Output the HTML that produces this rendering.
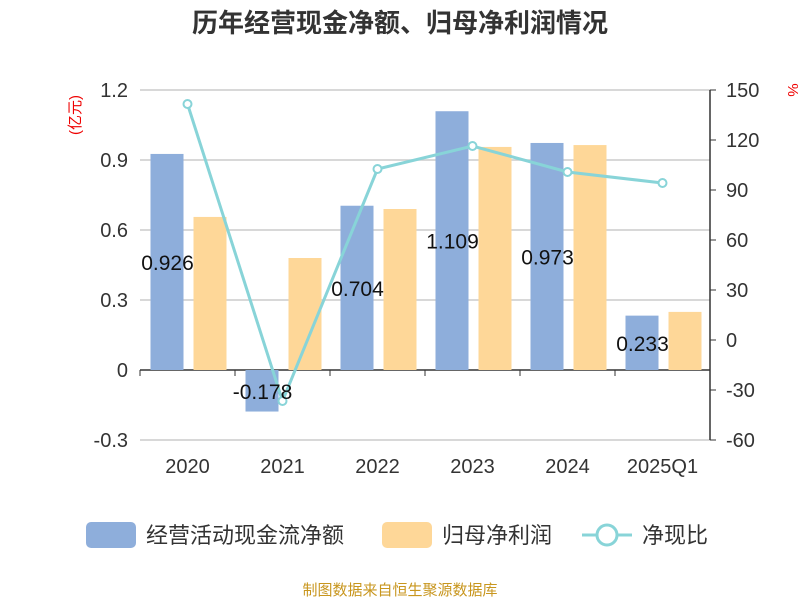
<!DOCTYPE html>
<html><head><meta charset="utf-8"><style>
body{margin:0;background:#fff;}
svg text{font-family:"Liberation Sans","Noto Sans CJK SC",sans-serif;}
</style></head><body>
<svg id="chart" width="800" height="600" xmlns="http://www.w3.org/2000/svg">
<text x="400" y="32" text-anchor="middle" font-size="26" font-weight="bold" fill="#333">历年经营现金净额、归母净利润情况</text>
<g id="grid"></g><g id="bars"></g><g id="line"></g><g id="axes"></g>
<text x="80" y="115" font-size="15" fill="#e00" transform="rotate(-90 80 115)" text-anchor="middle">(亿元)</text>
<text x="788" y="90" font-size="15" fill="#e00" transform="rotate(90 788 90)" text-anchor="middle">%</text>
<g>
<rect x="86" y="522" width="50" height="26" rx="5" fill="#8eaedb"/>
<text x="146" y="543" font-size="22" fill="#333">经营活动现金流净额</text>
<rect x="382" y="522" width="50" height="26" rx="5" fill="#fed798"/>
<text x="442" y="543" font-size="22" fill="#333">归母净利润</text>
<line x1="582" y1="535" x2="632" y2="535" stroke="#88d4d8" stroke-width="3"/>
<circle cx="607" cy="535" r="10" fill="#fff" stroke="#88d4d8" stroke-width="3"/>
<text x="642" y="543" font-size="22" fill="#333">净现比</text>
</g>
<text x="400" y="595" text-anchor="middle" font-size="15" fill="#c8961e">制图数据来自恒生聚源数据库</text>
</svg>
<script>
const categories=["2020","2021","2022","2023","2024","2025Q1"];
const cashFlow=[0.926,-0.178,0.704,1.109,0.973,0.233];
const netProfit=[0.656,0.48,0.69,0.956,0.964,0.249];
const ratio=[141.6,-36.6,102.6,116.4,100.8,94.2];
const leftTicks=[-0.3,0,0.3,0.6,0.9,1.2];
const rightTicks=[-60,-30,0,30,60,90,120,150];
const NS="http://www.w3.org/2000/svg";
const x0=140,x1=710,yTop=90,yBot=440;
const yL=v=>370-(v/0.3)*70;
const yR=v=>340-v*350/210;
const bw=(x1-x0)/categories.length;
const xC=i=>x0+bw*(i+0.5);
function mk(tag,attrs,parent){const e=document.createElementNS(NS,tag);for(const k in attrs)e.setAttribute(k,attrs[k]);document.getElementById(parent).appendChild(e);return e;}
leftTicks.forEach(t=>{
 const l=mk("line",{x1:x0,x2:x1,y1:yL(t),y2:yL(t),stroke:t===0?"#333":"#ccc","stroke-width":1.5},"grid");
 
 
 const tx=mk("text",{x:x0-12,y:yL(t)+7,"text-anchor":"end","font-size":20,fill:"#333"},"axes");
 tx.textContent=t===0?"0":t.toFixed(1);
 
 
});
rightTicks.forEach(t=>{
 const tk=mk("line",{x1:x1,x2:x1+6,y1:yR(t),y2:yR(t),stroke:"#333"},"axes");
 
 
 const tx=mk("text",{x:x1+16,y:yR(t)+7,"font-size":20,fill:"#333"},"axes");
 tx.textContent=t;
 
 
});
const ra=mk("line",{x1:x1,x2:x1,y1:yTop,y2:yBot,stroke:"#333","stroke-width":1.5},"axes");


categories.forEach((c,i)=>{
 const tk=mk("line",{x1:x0+bw*i,x2:x0+bw*i,y1:370,y2:376,stroke:"#333"},"axes");
 
 
 const tx=mk("text",{x:xC(i),y:473,"text-anchor":"middle","font-size":20,fill:"#333"},"axes");
 tx.textContent=c;
 
 
 const v=cashFlow[i];
 const b=mk("rect",{x:xC(i)-37,y:Math.min(yL(v),370),width:33,height:Math.abs(yL(v)-370),fill:"#8eaedb"},"bars");
 
 
 const p=netProfit[i];
 const b2=mk("rect",{x:xC(i)+6,y:Math.min(yL(p),370),width:33,height:Math.abs(yL(p)-370),fill:"#fed798"},"bars");
 
 
});
const pts=ratio.map((v,i)=>xC(i)+","+yR(v)).join(" ");
const pl=mk("polyline",{points:pts,fill:"none",stroke:"#88d4d8","stroke-width":3},"line");


ratio.forEach((v,i)=>{
 const c=mk("circle",{cx:xC(i),cy:yR(v),r:4,fill:"#fff",stroke:"#88d4d8","stroke-width":2},"line");
 
 
});
cashFlow.forEach((v,i)=>{
 const tx=mk("text",{x:xC(i)-20,y:(yL(v)+370)/2+8,"text-anchor":"middle","font-size":21,fill:"#111"},"line");
 tx.textContent=v;
 
 
});
</script>
</body></html>
